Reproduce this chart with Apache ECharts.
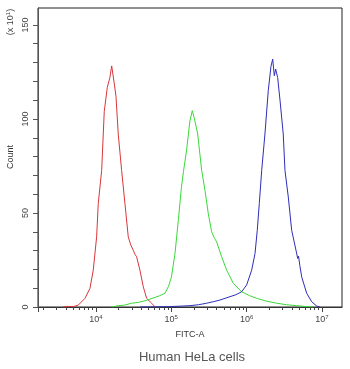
<!DOCTYPE html>
<html>
<head>
<meta charset="utf-8">
<script src="https://cdn.jsdelivr.net/npm/echarts@6/dist/echarts.min.js"></script>
<style>html,body{margin:0;padding:0;background:#fff}#c{width:350px;height:369px}</style>
</head>
<body>
<div id="c"></div>
<script>
// ---- data (FITC-A intensity, count in units of x10) ----
const redFitc   = [3650,4290,5000,5820,7150,8320,9210,10210,10730,11910,12890,14130,15300,16180,16830,17620,18450,19770,21930,24260,26850,29000,31270,33000,34670,38370,42470,47100,54920,60800];
const redCount  = [0,0.3,0.2,1,4.6,9.9,19.6,37.3,55,72.6,104,116.7,122,128.2,128,118,112,92,72.6,55,37.3,33,30.2,28,26.7,19.6,10.8,4.6,2,0];
const greenFitc  = [16150,19770,24000,29780,37000,44770,52000,60800,70000,82420,92000,100600,112000,124000,136500,145200,159200,177000,190100,203300,224300,253500,280500,310000,343600,370000,400700,466900,544200,665600,860800,1100000,1361000,1800000,2512000,3400000,4624000,6000000,7691000];
const greenCount = [0,0.7,1,2,2.5,3.3,4.2,5.1,6,7.3,11,16,28.4,46,63.7,72,83,99,104.4,100,92,72.6,62,49.7,40,37,34.6,26.7,19.6,12.6,8.1,6,4.6,3.2,2,1.2,0.7,0.3,0];
const blueFitc  = [38370,60000,96100,140000,177000,230000,295100,360000,443600,602600,720000,860800,1002000,1169000,1294000,1387000,1475000,1588000,1754000,1941000,2109000,2223000,2335000,2433000,2588000,2780000,3069000,3236000,3581000,3971000,4530000,4775000,4900000,5100000,5395000,6285000,7328000,8531000,9441000];
const blueCount = [0,0.1,0.2,0.5,0.7,1.2,2,2.8,3.7,5.5,6.5,8.1,11.7,19.6,28.4,40.8,55,72.6,92,115,128,131.8,123,126.5,122,110,92,72.6,58.5,40.8,30.2,25.8,27,22,16,7.3,2.8,0.5,0];
const xExponents = [4,5,6,7];
const yTickLabels = [0,50,100,150];
const xMinVal = 1700, xMaxVal = 18500000;
const yMax = 159;

const lg = Math.log10;
const toPts = (xs, ys) => xs.map((v, i) => [lg(v), ys[i]]);
const minorTicks = [];
for (let e = 3; e <= 7; e++) for (let k = 2; k <= 9; k++) {
  const v = lg(k * Math.pow(10, e));
  if (v > lg(xMinVal) && v < lg(xMaxVal)) minorTicks.push(v);
}
const majorTicks = [lg(xMinVal)].concat(xExponents);
const yTicks = [];
for (let t = 0; t <= 150; t += 10) yTicks.push(t);

const font = 'Liberation Sans, Arial, sans-serif';
const chart = echarts.init(document.getElementById('c'), null, {renderer: 'canvas'});
chart.setOption({
  animation: false,
  backgroundColor: '#fff',
  grid: {left: 38, right: 8, top: 8, bottom: 62, show: true, borderColor: '#222', borderWidth: 1},
  xAxis: [{
    type: 'value', min: lg(xMinVal), max: lg(xMaxVal), position: 'bottom', offset: 0,
    name: 'FITC-A', nameLocation: 'middle', nameGap: 23,
    nameTextStyle: {fontSize: 9, color: '#333', fontFamily: font},
    axisLine: {show: true, lineStyle: {color: '#333', width: 1}},
    axisTick: {show: true, length: 5, customValues: majorTicks, lineStyle: {color: '#444'}},
    axisLabel: {
      show: true, customValues: xExponents, margin: 7,
      formatter: v => '{b|10}{s|' + Math.round(v) + '}',
      rich: {
        b: {fontSize: 9, color: '#444', fontFamily: font},
        s: {fontSize: 6, color: '#444', fontFamily: font, padding: [0, 0, 6, 0]}
      }
    },
    splitLine: {show: false}
  }, {
    type: 'value', min: lg(xMinVal), max: lg(xMaxVal), position: 'bottom', offset: 0,
    axisLine: {show: false},
    axisTick: {show: true, length: 3, customValues: minorTicks, lineStyle: {color: '#444'}},
    axisLabel: {show: false},
    splitLine: {show: false}
  }],
  yAxis: {
    type: 'value', min: 0, max: yMax,
    axisLine: {show: true, lineStyle: {color: '#555', width: 1}},
    axisTick: {show: true, length: 5, customValues: yTicks, lineStyle: {color: '#555'}},
    axisLabel: {customValues: yTickLabels, rotate: 90, margin: 8, fontSize: 9, color: '#444', fontFamily: font},
    splitLine: {show: false}
  },
  graphic: [
    {type: 'text', x: 11, y: 157, rotation: Math.PI / 2,
     style: {text: 'Count', fontSize: 9, fill: '#333', fontFamily: font, align: 'center', verticalAlign: 'middle'}},
    {type: 'text', x: 11, y: 22, rotation: Math.PI / 2,
     style: {text: '{p|(x 10}{s|1}{p|)}', align: 'center', verticalAlign: 'middle',
       rich: {p: {fontSize: 9, fill: '#444', fontFamily: font}, s: {fontSize: 6, fill: '#444', fontFamily: font, padding: [0,0,6,0]}}}},
    {type: 'text', x: 192, y: 357, 
     style: {text: 'Human HeLa cells', fontSize: 13, fill: '#555', fontFamily: font, align: 'center', verticalAlign: 'middle'}}
  ],
  series: [
    {type: 'line', data: toPts(redFitc, redCount), showSymbol: false, lineStyle: {color: '#d9363a', width: 1}, itemStyle: {color: '#d9363a'}},
    {type: 'line', data: toPts(greenFitc, greenCount), showSymbol: false, lineStyle: {color: '#3ad83a', width: 1}, itemStyle: {color: '#3ad83a'}},
    {type: 'line', data: toPts(blueFitc, blueCount), showSymbol: false, lineStyle: {color: '#2e2eb8', width: 1}, itemStyle: {color: '#2e2eb8'}}
  ]
});
</script>
</body>
</html>
